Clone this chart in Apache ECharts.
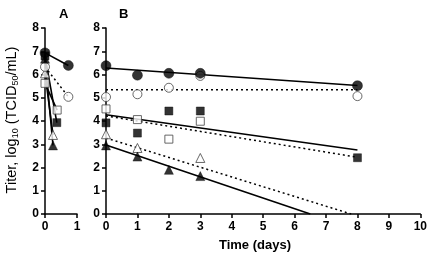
<!DOCTYPE html>
<html>
<head>
<meta charset="utf-8">
<script src="https://cdn.jsdelivr.net/npm/echarts@6/dist/echarts.min.js"></script>
<style>
  html, body { margin: 0; padding: 0; background: #fff; }
  #chart { width: 430px; height: 267px; }
</style>
</head>
<body>
<div id="chart"></div>
<script>
// panel A: early time points (days)
const aFilledCircle = [[0, 6.93], [0.73, 6.39]]
const aOpenCircle = [[0, 6.33], [0.73, 5.04]]
const aFilledSquare = [[0, 6.8], [0.37, 3.93]]
const aOpenSquare = [[0, 5.62], [0.38, 4.47]]
const aFilledTriangle = [[0, 6.68], [0.25, 2.95]]
const aOpenTriangle = [[0, 6.05], [0.25, 3.4]]

// panel B: measured points
const bFilledCircle = [[0, 6.38], [1, 5.97], [2, 6.05], [3, 6.05], [8, 5.52]]
const bOpenCircle = [[0, 5.03], [1, 5.15], [2, 5.43], [3, 5.94], [8, 5.07]]
const bFilledSquare = [[0, 3.92], [1, 3.48], [2, 4.43], [3, 4.43], [8, 2.42]]
const bOpenSquare = [[0, 4.52], [1, 4.06], [2, 3.22], [3, 3.99]]
const bFilledTriangle = [[0, 2.95], [1, 2.47], [2, 1.9], [3, 1.63]]
const bOpenTriangle = [[0, 3.43], [1, 2.84], [3, 2.41]]

// panel B: regression lines (endpoints)
const fitFilledCircle = [[0, 6.28], [8, 5.53]]
const fitOpenCircle = [[0, 5.34], [8, 5.34]]
const fitFilledSquare = [[0, 4.27], [8, 2.75]]
const fitOpenSquare = [[0, 4.22], [8, 2.44]]
const fitFilledTriangle = [[0, 2.97], [6.5, 0]]
const fitOpenTriangle = [[0, 3.27], [7.8, 0]]

const yTicks = [0, 1, 2, 3, 4, 5, 6, 7, 8]
const xTicksA = [0, 1]
const xTicksB = [0, 1, 2, 3, 4, 5, 6, 7, 8, 9, 10]

const font = 'Liberation Sans, Arial, sans-serif'
const black = '#000'

const chart = echarts.init(document.getElementById('chart'))

function yAxis(gridIndex) {
  return {
    type: 'value',
    gridIndex,
    min: yTicks[0],
    max: yTicks[yTicks.length - 1],
    interval: 1,
    axisLine: { show: true, lineStyle: { color: black, width: 1.5 } },
    axisTick: { show: true, length: 4, lineStyle: { color: black, width: 1.5 } },
    axisLabel: { color: black, fontFamily: font, fontWeight: 'bold', fontSize: 12, margin: 6 },
    splitLine: { show: false }
  }
}

function xAxis(gridIndex, ticks) {
  return {
    type: 'value',
    gridIndex,
    min: ticks[0],
    max: ticks[ticks.length - 1],
    interval: 1,
    axisLine: { show: true, onZero: false, lineStyle: { color: black, width: 1.5 } },
    axisTick: { show: true, length: 4, lineStyle: { color: black, width: 1.5 } },
    axisLabel: { color: black, fontFamily: font, fontWeight: 'bold', fontSize: 12, margin: 7 },
    splitLine: { show: false }
  }
}

function markers(data, idx, symbol, filled, size) {
  return {
    type: 'scatter',
    xAxisIndex: idx,
    yAxisIndex: idx,
    data,
    symbol,
    symbolSize: size,
    z: 5,
    itemStyle: filled
      ? { color: black, borderColor: black, borderWidth: 0.5 }
      : { color: '#fff', borderColor: '#444', borderWidth: 1 }
  }
}

function line(data, idx, dotted) {
  return {
    type: 'line',
    xAxisIndex: idx,
    yAxisIndex: idx,
    data,
    showSymbol: false,
    symbol: 'none',
    z: 3,
    lineStyle: dotted
      ? { color: black, width: 1.5, type: [2, 3] }
      : { color: black, width: 1.6 }
  }
}

chart.setOption({
  animation: false,
  title: [
    { text: 'A', left: 54, top: 3, textStyle: { fontFamily: font, fontWeight: 'bold', fontSize: 13, color: black } },
    { text: 'B', left: 114, top: 3, textStyle: { fontFamily: font, fontWeight: 'bold', fontSize: 13, color: black } },
    {
      text: 'Time (days)',
      left: 250,
      top: 234,
      textAlign: 'center',
      textStyle: { fontFamily: font, fontWeight: 'bold', fontSize: 13, color: black }
    }
  ],
  graphic: [{
    type: 'text',
    x: 3,
    y: 120,
    rotation: Math.PI / 2,
    style: {
      text: '{n|Titer, log}{s|10}{n| (TCID}{s|50}{n|/mL)}',
      align: 'center',
      verticalAlign: 'top',
      rich: {
        n: { fontFamily: font, fontSize: 14.5, fill: black, fontWeight: 'normal' },
        s: { fontFamily: font, fontSize: 9, fill: black, verticalAlign: 'bottom', padding: [8, 0, 0, 0] }
      }
    }
  }],
  grid: [
    { left: 45, top: 28, width: 32, height: 186 },
    { left: 106, top: 28, width: 316, height: 186 }
  ],
  xAxis: [xAxis(0, xTicksA), xAxis(1, xTicksB)],
  yAxis: [yAxis(0), yAxis(1)],
  series: [
    line(aFilledCircle, 0, false),
    line(aOpenCircle, 0, true),
    line(aFilledSquare, 0, false),
    line(aOpenSquare, 0, false),
    line(aFilledTriangle, 0, false),
    line(aOpenTriangle, 0, false),
    markers(aOpenTriangle, 0, 'triangle', false, 9),
    markers(aOpenSquare, 0, 'rect', false, 8),
    markers(aOpenCircle, 0, 'circle', false, 9),
    markers(aFilledTriangle, 0, 'triangle', true, 9),
    markers(aFilledSquare, 0, 'rect', true, 8),
    markers(aFilledCircle, 0, 'circle', true, 10),

    line(fitFilledCircle, 1, false),
    line(fitOpenCircle, 1, true),
    line(fitFilledSquare, 1, false),
    line(fitOpenSquare, 1, true),
    line(fitFilledTriangle, 1, false),
    line(fitOpenTriangle, 1, true),
    markers(bOpenCircle, 1, 'circle', false, 9),
    markers(bOpenSquare, 1, 'rect', false, 8),
    markers(bOpenTriangle, 1, 'triangle', false, 9),
    markers(bFilledCircle, 1, 'circle', true, 10),
    markers(bFilledSquare, 1, 'rect', true, 8),
    markers(bFilledTriangle, 1, 'triangle', true, 9)
  ]
})
</script>
</body>
</html>
